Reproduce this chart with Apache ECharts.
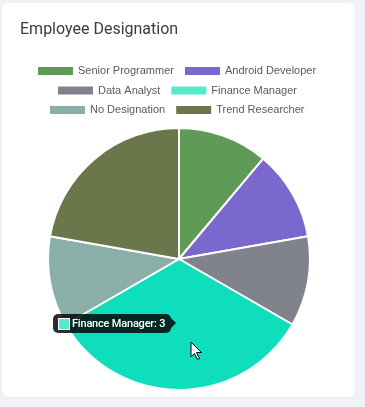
<!DOCTYPE html>
<html>
<head>
<meta charset="utf-8">
<script src="https://cdn.jsdelivr.net/npm/echarts@6/dist/echarts.min.js"></script>
<style>
html,body{margin:0;padding:0;width:365px;height:407px;background:#f1f2f7;overflow:hidden;}
#card{position:absolute;left:2px;top:3px;width:353px;height:394px;background:#fff;border-radius:6px;box-shadow:0 1px 3px rgba(0,0,0,0.04);}
#chart{position:absolute;left:0;top:0;width:365px;height:407px;}
</style>
</head>
<body>
<div id="card"></div>
<div id="chart"></div>
<script>
var categories = ['Senior Programmer','Android Developer','Data Analyst','Finance Manager','No Designation','Trend Researcher'];
var values = [1,1,1,3,1,2];
var sliceColors = ['#5f9a57','#7b68cf','#80838b','#0fdebc','#8aafa9','#6b774b'];
var legendColors = ['#5f9a57','#7b68cf','#80838b','#58e8cd','#8aafa9','#6b774b'];

var chart = echarts.init(document.getElementById('chart'), null, {renderer:'canvas'});
var legendRows = [[0,1],[2,3],[4,5]];
var legendLefts = [36,56,48];
var legendTops = [65,84.5,104];
var legends = legendRows.map(function(row,i){
  return {
    left: legendLefts[i], top: legendTops[i], orient:'horizontal', padding:0,
    itemWidth:37, itemHeight:10, itemGap:9, icon:'rect', selectedMode:false,
    textStyle:{fontSize:11, color:'#5a5a5a', fontFamily:'Arial, "Liberation Sans"', padding:[0,0,0,-1]},
    data: row.map(function(k){ return {name:categories[k], itemStyle:{color:legendColors[k]}}; })
  };
});
var option = {
  animation:false,
  title:{text:'Employee Designation', left:15, top:17, textStyle:{fontSize:16, fontWeight:'normal', color:'#3b3b3b', fontFamily:'Roboto'}},
  legend: legends,
  tooltip:{
    trigger:'item', triggerOn:'none', alwaysShowContent:true,
    backgroundColor:'rgba(0,0,0,0.82)', borderWidth:0, padding:0,
    extraCssText:'box-shadow:none;border-radius:5px;overflow:visible;',
    position:function(){ return [53,314]; },
    formatter:function(p){
      return '<div style="position:relative;height:19px;width:118px;line-height:19px;font-family:Roboto;font-weight:500;font-size:11px;letter-spacing:-0.2px;color:#fff;white-space:nowrap;">'
        + '<span style="position:absolute;left:5px;top:4px;width:10px;height:10px;background:'+legendColors[p.dataIndex]+';border:1px solid #fff;"></span>'
        + '<span style="position:absolute;right:-5px;top:4px;width:0;height:0;border-top:5px solid transparent;border-bottom:5px solid transparent;border-left:5px solid rgba(0,0,0,0.82);"></span>'
        + '<span style="position:absolute;left:19px;top:0;">'+p.name+': '+p.value+'</span>'
        + '</div>';
    }
  },
  series:[{
    type:'pie', center:[179,259], radius:[0,131], startAngle:90, clockwise:true,
    label:{show:false}, labelLine:{show:false},
    itemStyle:{borderColor:'#fff', borderWidth:2},
    emphasis:{disabled:true},
    data: categories.map(function(n,i){ return {name:n, value:values[i], itemStyle:{color:sliceColors[i]}}; })
  }],
  graphic:[{
    type:'polygon', z:100,
    shape:{points:[[191,342],[191,357],[194.5,353.5],[197.5,359.5],[199.5,358.5],[196.5,352.5],[201.5,352.5]]},
    style:{fill:'#fff', stroke:'#000', lineWidth:1}
  }]
};
chart.setOption(option);
chart.dispatchAction({type:'showTip', seriesIndex:0, dataIndex:3});
</script>
</body>
</html>
